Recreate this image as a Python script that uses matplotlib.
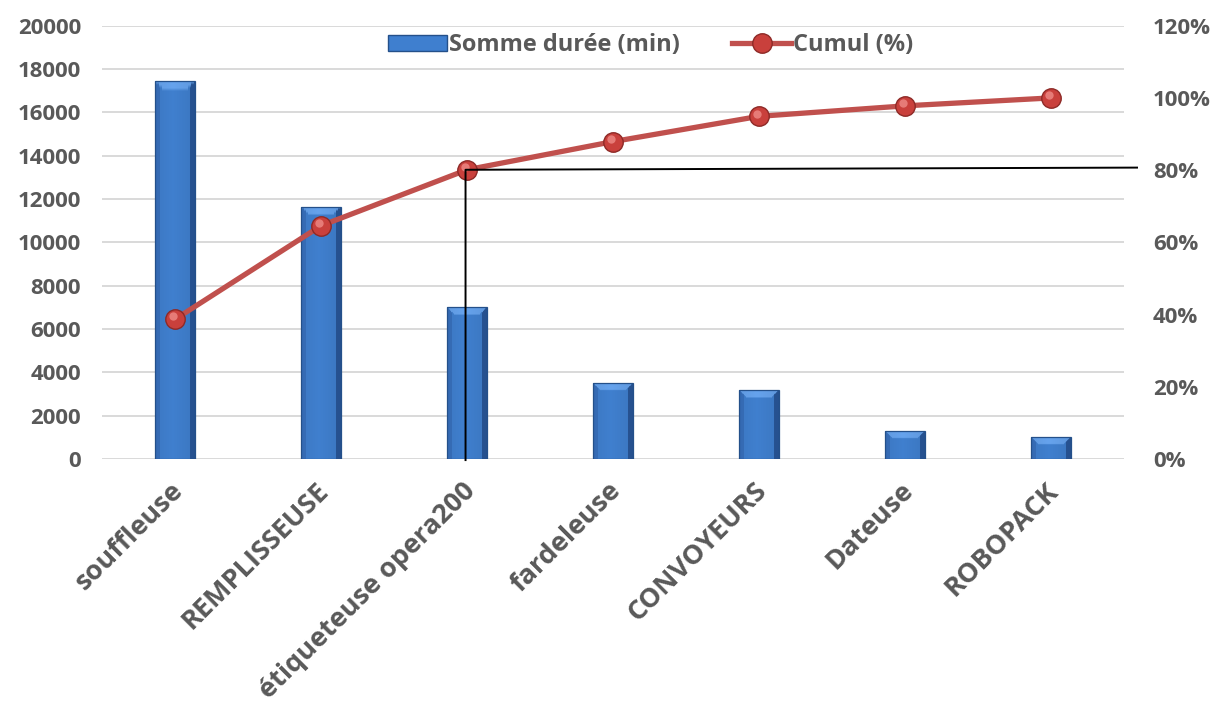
import numpy as np
import matplotlib.pyplot as plt
from matplotlib.lines import Line2D
from matplotlib.patches import Rectangle
from matplotlib.ticker import FuncFormatter
from matplotlib.transforms import offset_copy

plt.rcParams['font.family'] = ['Open Sans', 'DejaVu Sans']
plt.rcParams['font.weight'] = 'bold'

machines = ['souffleuse', 'REMPLISSEUSE', 'étiqueteuse opera200', 'fardeleuse',
            'CONVOYEURS', 'Dateuse', 'ROBOPACK']
duree_min = [17450, 11650, 7000, 3500, 3180, 1290, 1000]
cumul_pct = [38.7, 64.6, 80.1, 87.9, 94.9, 97.8, 100.0]

TXT = '#595959'
GRID = '#D9D9D9'
RED = '#C0504D'

fig = plt.figure(figsize=(12.15, 7.04), dpi=100)
ax = fig.add_axes([0.084, 0.348, 0.841, 0.6155])
ax2 = ax.twinx()

x = np.arange(len(machines))
ax.set_xlim(-0.5, len(machines) - 0.5)
ax.set_ylim(0, 20000)
ax2.set_ylim(0, 120)

# px per data unit, used to size the bevels on the bars
fig.canvas.draw()
bb = ax.get_window_extent()
px_x = bb.width / len(machines)
px_y = bb.height / 20000.0

face = np.array([0.25, 0.50, 0.81])
top = np.array([0.40, 0.64, 0.93])
left = np.array([0.22, 0.44, 0.74])
right = np.array([0.16, 0.34, 0.60])

width = 0.27
bars = ax.bar(x, duree_min, width=width, color='none', edgecolor='#24508A',
              linewidth=0.9, zorder=3)
for rect, h in zip(bars, duree_min):
    x0 = rect.get_x()
    nr, nc = 120, 40
    ys = np.linspace(h, 0, nr)
    xs = np.linspace(0, width, nc)
    XX, YY = np.meshgrid(xs, ys)
    dl = XX * px_x
    dr = (width - XX) * px_x
    dt = (h - YY) * px_y
    img = np.empty((nr, nc, 3))
    img[:] = face
    b = 7.0
    img[(dl < 5)] = left
    img[(dr < 5)] = right
    img[(dt < b) & (dt < dl) & (dt < dr)] = top
    # soft horizontal shading across the face
    shade = 1 - 0.12 * np.abs((XX / width) - 0.45)
    img = np.clip(img * shade[..., None], 0, 1)
    im = ax.imshow(img, extent=[x0, x0 + width, 0, h], aspect='auto',
                   interpolation='bilinear', zorder=2)
    im.set_clip_path(rect)
ax.set_xlim(-0.5, len(machines) - 0.5)
ax.set_ylim(0, 20000)

ax.set_yticks(range(0, 20001, 2000))
ax.yaxis.grid(True, color=GRID, linewidth=1.4)
ax.set_axisbelow(True)
ax2.set_yticks(range(0, 121, 20))
ax2.yaxis.set_major_formatter(FuncFormatter(lambda v, p: f'{v:.0f}%'))

for a in (ax, ax2):
    for s in a.spines.values():
        s.set_visible(False)
    a.tick_params(length=0, labelsize=16, labelcolor=TXT)
ax.tick_params(axis='y', pad=15)
ax2.tick_params(axis='y', pad=21)

ax.set_xticks(x)
ax.set_xticklabels([])
for i, name in enumerate(machines):
    ax.annotate(name, xy=(i, 0), xycoords=('data', 'axes fraction'),
                xytext=(3, -20), textcoords='offset points',
                rotation=45, rotation_mode='anchor', ha='right', va='center',
                fontsize=19.5, color=TXT, fontweight='bold')

ax2.plot(x, cumul_pct, color=RED, linewidth=3.8, marker='o', markersize=14,
         markerfacecolor='#C9403C', markeredgecolor='#8E2A27',
         markeredgewidth=1.0, zorder=4)
# highlight on each marker
ax2.plot(x, cumul_pct, linestyle='none', marker='o', markersize=6,
         markerfacecolor='#EE8A86', markeredgecolor='none', alpha=0.8,
         transform=offset_copy(ax2.transData, fig=fig, x=-1.2, y=2.0, units='points'),
         zorder=4.5)

# 80 % marker line
k = 2
ax2.plot([k - 0.01, k - 0.01, 6.59], [-0.3, cumul_pct[k], cumul_pct[k] + 0.6],
         color='black', linewidth=1.4, clip_on=False, zorder=5)

handles = [Rectangle((0, 0), 1, 1, facecolor='#3F7FCF', edgecolor='#24508A'),
           Line2D([], [], color=RED, linewidth=3.8, marker='o', markersize=14,
                  markerfacecolor='#C9403C', markeredgecolor='#8E2A27')]
leg = ax2.legend(handles, ['Somme durée (min)', 'Cumul (%)'], loc='center',
                 bbox_to_anchor=(0.537, 0.955), ncol=2, frameon=True,
                 facecolor='white', edgecolor='none', framealpha=1,
                 fontsize=17, handlelength=2.5, handletextpad=0.1,
                 columnspacing=2.2, borderpad=0.2)
for t in leg.get_texts():
    t.set_color(TXT)
    t.set_fontweight('bold')

fig.savefig('out.png', dpi=100)
